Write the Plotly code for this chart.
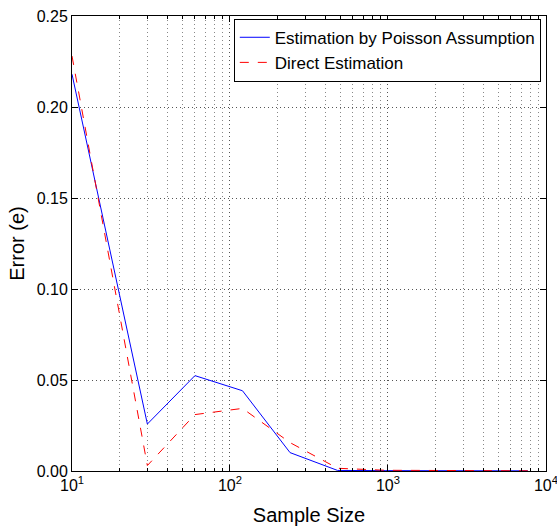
import plotly.graph_objects as go

sample_size = [10, 30, 60, 120, 240, 480, 960, 1920, 3840, 7680]
poisson_err = [0.218, 0.0258, 0.0524, 0.0441, 0.0101, 0.0003, 0.0002, 0.0001, 0.0001, 0.0001]
direct_err = [0.228, 0.003, 0.031, 0.0344, 0.0156, 0.0015, 0.0004, 0.0002, 0.0001, 0.0001]

x_major = [10, 100, 1000, 10000]
x_major_text = ["10<sup>1</sup>", "10<sup>2</sup>", "10<sup>3</sup>", "10<sup>4</sup>"]
x_minor = [m * d for d in [10, 100, 1000] for m in range(2, 10)]
y_ticks = [0.0, 0.05, 0.10, 0.15, 0.20, 0.25]

FONT = "Liberation Sans, Arial, sans-serif"

fig = go.Figure()
fig.add_trace(go.Scatter(x=sample_size, y=poisson_err, mode="lines",
                         name="Estimation by Poisson Assumption",
                         line=dict(color="#0000ff", width=1)))
fig.add_trace(go.Scatter(x=sample_size, y=direct_err, mode="lines",
                         name="Direct Estimation",
                         line=dict(color="#ff0000", width=1, dash="dash")))

fig.update_layout(
    width=557, height=531,
    margin=dict(l=72, r=11, t=16, b=60, autoexpand=False),
    paper_bgcolor="white", plot_bgcolor="white",
    font=dict(family=FONT, size=16, color="black"),
    legend=dict(x=0.989, y=0.994, xanchor="right", yanchor="top",
                bordercolor="black", borderwidth=1, bgcolor="white",
                font=dict(size=17), tracegroupgap=0, itemwidth=30),
    showlegend=True,
)

fig.update_xaxes(
    type="log", range=[1, 4.0005], automargin=False,
    tickmode="array", tickvals=x_major, ticktext=x_major_text,
    ticks="inside", ticklen=6, tickcolor="black",
    showline=True, linecolor="black", linewidth=1, mirror="ticks",
    showgrid=True, gridcolor="#555555", griddash="1px,3px", gridwidth=1,
    minor=dict(tickmode="array", tickvals=x_minor, ticks="inside", ticklen=3,
               tickcolor="black", showgrid=True, gridcolor="#888888",
               griddash="1px,3px", gridwidth=1),
    zeroline=False, ticklabeloverflow="allow",
    title=dict(text="Sample Size", font=dict(size=20), standoff=14),
    tickfont=dict(size=16),
)
fig.update_yaxes(
    range=[0, 0.25], automargin=False,
    tickmode="array", tickvals=y_ticks, tickformat=".2f",
    ticks="inside", ticklen=6, tickcolor="black",
    showline=True, linecolor="black", linewidth=1, mirror="ticks",
    showgrid=True, gridcolor="#555555", griddash="1px,3px", gridwidth=1,
    zeroline=False,
    title=dict(text="Error (e)", font=dict(size=20), standoff=6),
    tickfont=dict(size=16),
)

fig.write_html("out.html")
